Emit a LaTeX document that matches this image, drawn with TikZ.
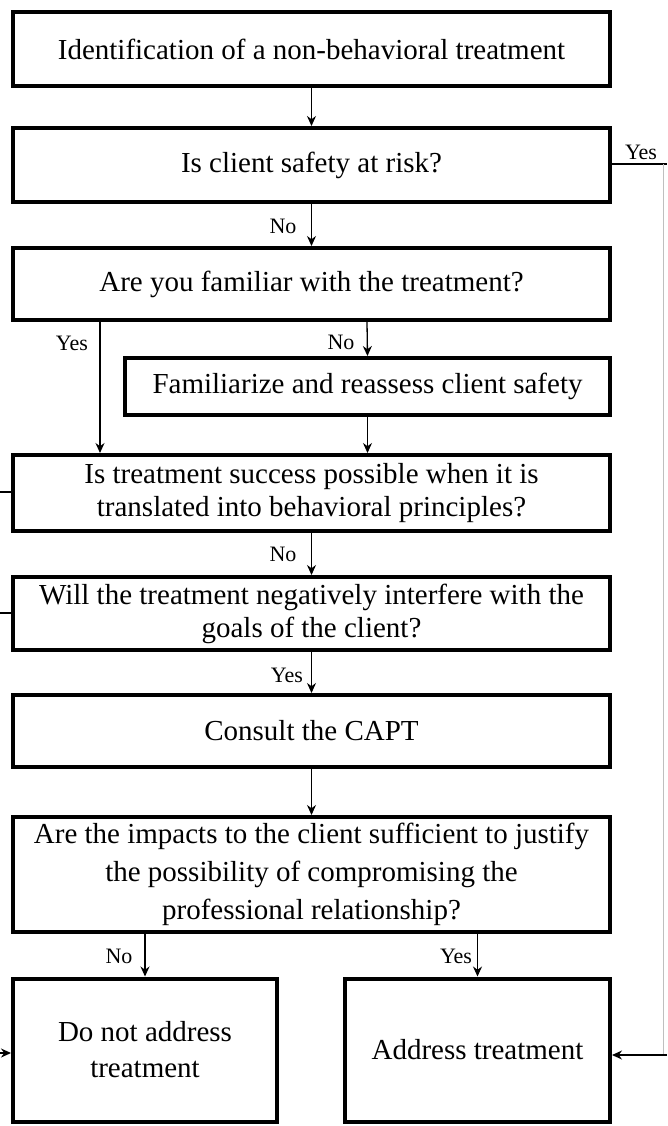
\documentclass[tikz,border=0pt]{standalone}
\usepackage{fontspec}
\setmainfont{Liberation Serif}
\usetikzlibrary{arrows.meta}
\begin{document}
\begin{tikzpicture}[x=1pt,y=-1pt,
 box/.style={draw, line width=4pt, fill=white, minimum width=597pt, inner sep=0pt, align=center, font=\fontsize{29}{36}\selectfont},
 arr/.style={line width=1.3pt, -{Stealth[length=10pt,width=9pt]}},
 conn/.style={line width=1.3pt},
 faint/.style={line width=1pt, black!25},
 lab/.style={font=\fontsize{22}{26}\selectfont, inner sep=0pt}]
\useasboundingbox[fill=white] (0,0) rectangle (667,1126);

\node[box, minimum height=74pt] (b1) at (311.5,49) {Identification of a non-behavioral treatment};
\node[box, minimum height=74pt] (b2) at (311.5,165) {Is client safety at risk?};
\node[box, minimum height=72pt] (b3) at (311.5,284) {Are you familiar with the treatment?};
\node[box, minimum width=485pt, minimum height=57pt] (fam) at (367.5,386.5) {Familiarize and reassess client safety};
\node[box, minimum height=76pt, font=\fontsize{29}{33}\selectfont] (b4) at (311.5,493) {Is treatment success possible when it is\\translated into behavioral principles?};
\node[box, minimum height=73pt, font=\fontsize{29}{33}\selectfont] (b5) at (311.5,613.5) {Will the treatment negatively interfere with the\\goals of the client?};
\node[box, minimum height=72pt] (b6) at (311.5,731) {Consult the CAPT};
\node[box, minimum height=115pt, font=\fontsize{29}{38}\selectfont] (b7) at (311.5,874.5) {Are the impacts to the client sufficient to justify\\the possibility of compromising the\\professional relationship?};
\node[box, minimum width=264pt, minimum height=143pt] (dna) at (145,1050) {Do not address\\treatment};
\node[box, minimum width=265pt, minimum height=143pt] (at) at (477.5,1050) {Address treatment};

% main column
\draw[arr] (b1.south) -- (b2.north);
\draw[arr] (b2.south) -- (b3.north);
\draw[arr] (b3.south -| 367,0) -- (fam.north);
\draw[arr] (fam.south) -- (fam.south |- b4.north);
\draw[arr] (b3.south -| 100,0) -- (b4.north -| 100,0);
\draw[arr] (b4.south) -- (b5.north);
\draw[arr] (b5.south) -- (b6.north);
\draw[arr] (b6.south) -- (b7.north);
\draw[arr] (b7.south -| dna.north) -- (dna.north);
\draw[arr] (b7.south -| at.north) -- (at.north);

% right side: yes from safety
\coordinate (rt) at (663,164);
\coordinate (rb) at (663,1055);
\coordinate (re) at (667,1055);
\draw[conn] (b2.east |- rt) -- (667,164);
\draw[faint] (rt) -- (rb);
\draw[arr] (re) -- (at.east |- re);

% left side stubs
\coordinate (l4) at (0,492);
\coordinate (l5) at (0,613);
\coordinate (ld) at (0,1053);
\draw[conn] (b4.west |- l4) -- (l4);
\draw[conn] (b5.west |- l5) -- (l5);
\draw[arr] (ld) -- (dna.west |- ld);

% labels
\node[lab] (yes1) at (641,152) {Yes};
\node[lab] (no1) at (283,226) {No};
\node[lab] (yes2) at (72,343) {Yes};
\node[lab] (no2) at (341,342) {No};
\node[lab] (no3) at (283,554) {No};
\node[lab] (yes3) at (287,675) {Yes};
\node[lab] (no4) at (119,956) {No};
\node[lab] (yes4) at (456,956) {Yes};
\end{tikzpicture}
\end{document}
